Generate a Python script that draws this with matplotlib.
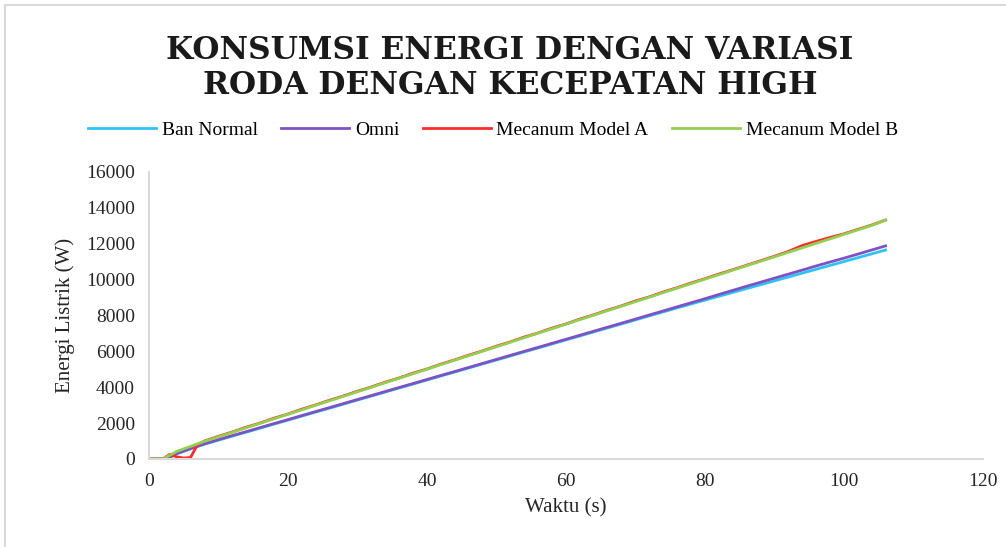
import matplotlib.pyplot as plt
from matplotlib.patches import Rectangle

plt.rcParams['font.family'] = ['Liberation Serif', 'DejaVu Serif']

# waktu (s)
waktu = [0, 1, 2, 3, 4, 5, 6, 7, 8, 10, 12, 14, 16, 18, 20, 22, 24, 26, 28, 30,
         32, 34, 36, 38, 40, 42, 44, 46, 48, 50, 52, 54, 56, 58, 60, 62, 64, 66,
         68, 70, 72, 74, 76, 78, 80, 82, 84, 86, 88, 90, 92, 94, 96, 98, 100,
         102, 104, 106]

ban_normal = [0, 0, 0, 80, 280, 420, 560, 690, 820, 1045, 1270, 1490, 1715, 1940,
              2160, 2385, 2610, 2830, 3055, 3280, 3500, 3725, 3950, 4170, 4395,
              4620, 4840, 5065, 5290, 5510, 5735, 5960, 6180, 6405, 6630, 6850,
              7075, 7300, 7520, 7745, 7970, 8190, 8415, 8630, 8845, 9060, 9275,
              9490, 9705, 9920, 10135, 10350, 10565, 10780, 10995, 11210, 11425,
              11640]

omni = [0, 0, 0, 100, 300, 440, 580, 710, 840, 1075, 1300, 1520, 1745, 1970,
        2190, 2415, 2640, 2860, 3085, 3310, 3530, 3755, 3980, 4200, 4425, 4650,
        4870, 5095, 5320, 5545, 5770, 5995, 6215, 6440, 6665, 6890, 7115, 7340,
        7565, 7790, 8020, 8245, 8475, 8700, 8925, 9160, 9390, 9620, 9845, 10070,
        10295, 10520, 10750, 10970, 11185, 11410, 11640, 11870]

mecanum_a = [0, 0, 0, 250, 120, 50, 80, 800, 1000, 1260, 1500, 1770, 2000, 2270,
             2500, 2770, 3010, 3270, 3510, 3770, 4010, 4275, 4510, 4780, 5010,
             5280, 5520, 5780, 6020, 6280, 6520, 6790, 7020, 7290, 7520, 7790,
             8030, 8290, 8530, 8800, 9030, 9300, 9540, 9800, 10040, 10300, 10540,
             10790, 11040, 11290, 11560, 11890, 12120, 12340, 12540, 12790, 13030,
             13310]

mecanum_b = [0, 0, 0, 200, 420, 560, 700, 840, 980, 1230, 1480, 1735, 1985, 2235,
             2485, 2735, 2990, 3240, 3490, 3740, 3990, 4245, 4495, 4745, 4995,
             5250, 5500, 5750, 6000, 6250, 6500, 6755, 7005, 7255, 7505, 7760,
             8010, 8260, 8510, 8760, 9010, 9265, 9515, 9765, 10015, 10265, 10515,
             10765, 11010, 11260, 11510, 11760, 12010, 12260, 12510, 12760, 13010,
             13300]

fig = plt.figure(figsize=(10.06, 5.47), dpi=100)
fig.patches.append(Rectangle((0.005, -0.05), 1.2, 1.04, transform=fig.transFigure,
                             fill=False, edgecolor='#d9d9d9', linewidth=1.5))
ax = fig.add_axes([0.148, 0.161, 0.829, 0.525])

ax.plot(waktu, ban_normal, color='#2cc3f5', lw=2, label='Ban Normal')
ax.plot(waktu, omni, color='#7f52c4', lw=2, label='Omni')
ax.plot(waktu, mecanum_a, color='#ff2b2b', lw=2, label='Mecanum Model A')
ax.plot(waktu, mecanum_b, color='#92d050', lw=2, label='Mecanum Model B')

ax.set_xlim(0, 120)
ax.set_ylim(0, 16000)
ax.set_xticks(range(0, 121, 20))
ax.set_yticks(range(0, 16001, 2000))
ax.tick_params(length=0, labelsize=14, colors='#262626', pad=10)
for s in ['top', 'right']:
    ax.spines[s].set_visible(False)
for s in ['left', 'bottom']:
    ax.spines[s].set_color('#d9d9d9')
    ax.spines[s].set_linewidth(1.5)

ax.set_xlabel('Waktu (s)', fontsize=15, color='#262626', labelpad=6)
ax.set_ylabel('Energi Listrik (W)', fontsize=15, color='#262626', labelpad=8)

fig.text(0.507, 0.876, 'KONSUMSI ENERGI DENGAN VARIASI\nRODA DENGAN KECEPATAN HIGH',
         ha='center', va='center', fontsize=22.5, fontweight='bold',
         family='DejaVu Serif', linespacing=1.15, color='#1a1a1a')

fig.legend(loc='center', bbox_to_anchor=(0.49, 0.762), ncol=4, frameon=False,
           fontsize=14, handlelength=3.5, columnspacing=1.2, handletextpad=0.3)

plt.savefig('out.png', dpi=100)
